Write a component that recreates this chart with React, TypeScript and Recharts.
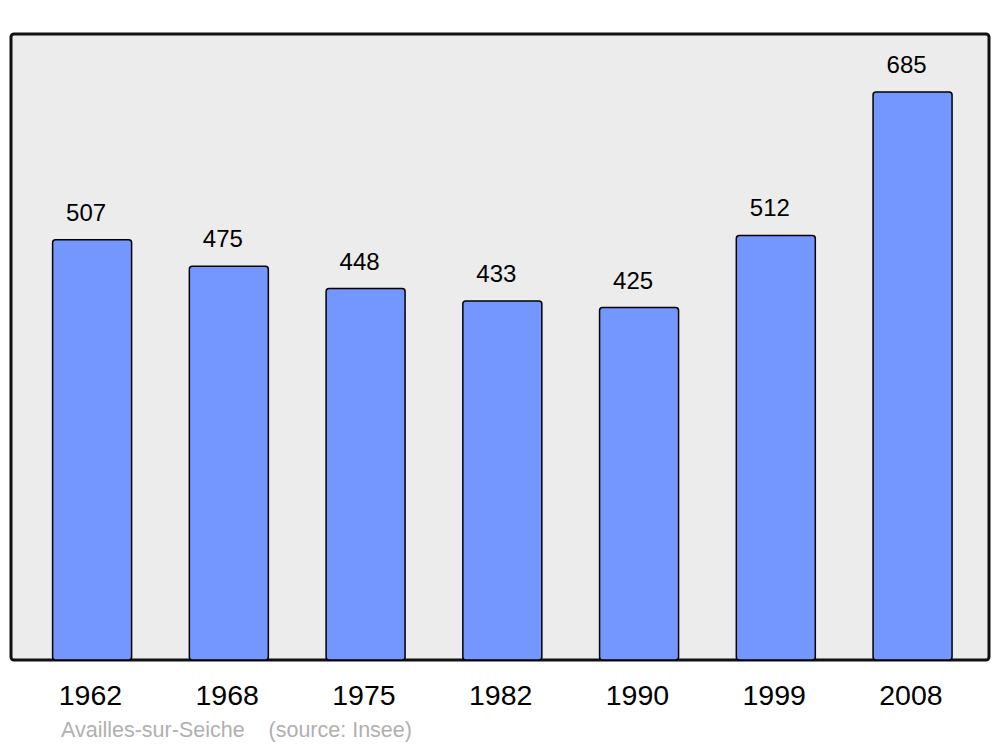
import React from 'react';
import { BarChart, Bar, XAxis, YAxis, CartesianGrid, LabelList, usePlotArea } from 'recharts';

const years = ['1962', '1968', '1975', '1982', '1990', '1999', '2008'];
const population = [507, 475, 448, 433, 425, 512, 685];
const sourceNote = 'Availles-sur-Seiche    (source: Insee)';

const data = years.map((year, i) => ({ year, population: population[i] }));

function Frame() {
  const area = usePlotArea();
  if (!area) return null;
  return (
    <rect
      x={area.x}
      y={area.y}
      width={area.width}
      height={area.height}
      rx={3}
      fill="none"
      stroke="#111"
      strokeWidth={3}
    />
  );
}

function YearTick({ x, y, payload }: any) {
  return (
    <text x={x} y={y} dx={-1.5} dy={37} textAnchor="middle" fontSize={28.5} fill="#000">
      {payload.value}
    </text>
  );
}

export default function App() {
  return (
    <div
      style={{
        position: 'absolute',
        left: 0,
        top: 0,
        width: 1000,
        height: 747,
        background: '#fff',
        fontFamily: '"Liberation Sans", Arial, sans-serif',
      }}
    >
      <BarChart
        width={1000}
        height={747}
        data={data}
        margin={{ top: 34, right: 11, left: 11, bottom: 0 }}
      >
        <CartesianGrid fill="#ececec" horizontal={false} vertical={false} />
        <XAxis
          dataKey="year"
          height={87}
          axisLine={false}
          tickLine={false}
          tick={<YearTick />}
          padding={{ left: 12.6, right: 8.2 }}
          interval={0}
        />
        <YAxis hide domain={[0, 755]} />
        <Bar
          dataKey="population"
          fill="#7396ff"
          stroke="#000"
          strokeWidth={1.5}
          barSize={79}
          radius={3}
          isAnimationActive={false}
        >
          <LabelList
            dataKey="population"
            position="top"
            offset={19}
            dx={-6}
            fontSize={24}
            fill="#000"
          />
        </Bar>
        <Frame />
      </BarChart>
      <div
        style={{
          position: 'absolute',
          left: 61,
          top: 718,
          fontSize: 21.5,
          color: '#b0b0b0',
          whiteSpace: 'pre',
        }}
      >
        {sourceNote}
      </div>
    </div>
  );
}
